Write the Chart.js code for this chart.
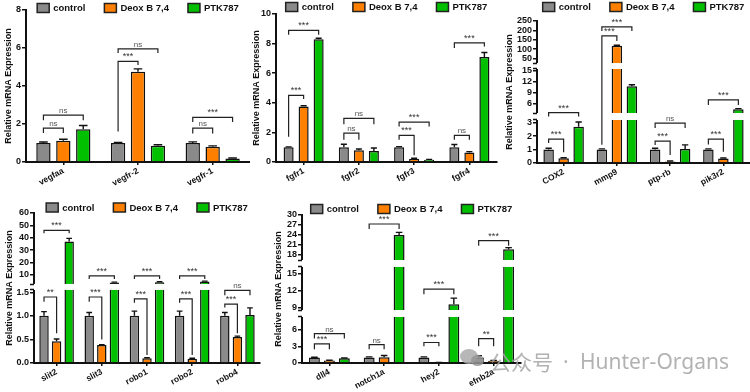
<!DOCTYPE html>
<html>
<head>
<meta charset="utf-8">
<script src="https://cdn.jsdelivr.net/npm/chart.js@4.4.1/dist/chart.umd.min.js"></script>
<style>
  html, body { margin: 0; padding: 0; background: #fff; }
  #wrap { position: relative; width: 750px; height: 392px; overflow: hidden; }
  #wrap canvas { position: absolute; }
  .wm { position: absolute; color: rgba(165,165,165,0.85); font-size: 21px; line-height: 21px; white-space: nowrap; }
  .cjk { font-family: "Noto Sans CJK SC", sans-serif; }
  .lat { font-family: "Noto Sans", sans-serif; }
  .bub { position: absolute; border-radius: 50%; background: rgba(170,170,170,0.85); }
</style>
</head>
<body>
<div id="wrap">
  <canvas id="pA" width="250" height="195" style="left:0;top:0"></canvas>
  <canvas id="pB" width="250" height="195" style="left:250px;top:0"></canvas>
  <canvas id="pC" width="250" height="195" style="left:500px;top:0"></canvas>
  <canvas id="pD" width="270" height="197" style="left:0;top:195px"></canvas>
  <canvas id="pE" width="255" height="197" style="left:270px;top:195px"></canvas>
  <div class="bub" style="left:460px;top:349px;width:18px;height:15px"></div>
  <div class="bub" style="left:471px;top:355px;width:13px;height:11px;background:rgba(150,150,150,0.85)"></div>
  <div class="wm cjk" style="left:490px;top:351px">公众号</div>
  <div class="wm lat" style="left:563px;top:351px">·</div>
  <div class="wm lat" style="left:580px;top:351px">Hunter-Organs</div>
</div>
<script>
const groups = ['control', 'Deox B 7,4', 'PTK787'];
const groupColors = ['#8a8a8a', '#ff8000', '#00c000'];

// sig rows: [gene, bar a, bar b, bracket level, left leg end, right leg end, label]
const vegfGenes = ['vegfaa', 'vegfr-2', 'vegfr-1'];
const vegfControl = [1.0, 1.0, 1.0];
const vegfDeox = [1.12, 4.75, 0.8];
const vegfPtk = [1.72, 0.85, 0.18];
const vegfSem = [[0.05, 0.03, 0.06], [0.08, 0.15, 0.05], [0.2, 0.06, 0.03]];
const vegfSig = [
  [0, 0, 1, 1.78, 1.53, 1.53, 'ns'],
  [0, 0, 2, 2.47, 2.2, 2.2, 'ns'],
  [1, 0, 1, 5.3, 1.6, 5.1, '***'],
  [1, 0, 2, 5.95, 5.74, 5.74, 'ns'],
  [2, 0, 1, 1.78, 1.5, 1.5, 'ns'],
  [2, 0, 2, 2.35, 2.1, 2.1, '***']
];

const fgfGenes = ['fgfr1', 'fgfr2', 'fgfr3', 'fgfr4'];
const fgfControl = [1.0, 1.0, 1.0, 1.0];
const fgfDeox = [3.75, 0.8, 0.22, 0.65];
const fgfPtk = [8.3, 0.75, 0.15, 7.1];
const fgfSem = [[0.02, 0.2, 0.04, 0.18], [0.05, 0.08, 0.03, 0.05], [0.06, 0.2, 0.03, 0.3]];
const fgfSig = [
  [0, 0, 1, 4.5, 1.7, 4.25, '***'],
  [0, 0, 2, 8.9, 8.6, 8.6, '***'],
  [1, 0, 1, 1.95, 1.5, 1.5, 'ns'],
  [1, 0, 2, 2.95, 2.55, 2.55, 'ns'],
  [2, 0, 1, 1.8, 1.5, 0.45, '***'],
  [2, 0, 2, 2.7, 2.4, 2.4, '***'],
  [3, 0, 1, 1.8, 1.5, 1.5, 'ns'],
  [3, 0, 2, 8.05, 7.7, 7.8, '***']
];

const coxGenes = ['COX2', 'mmp9', 'ptp-rb', 'pik3r2'];
const coxControl = [1.0, 1.0, 1.0, 1.0];
const coxDeox = [0.35, 117, 0.12, 0.33];
const coxPtk = [2.7, 10.8, 1.05, 4.5];
const coxSem = [[0.1, 0.05, 0.1, 0.05], [0.04, 3, 0.03, 0.04], [0.35, 0.4, 0.3, 0.2]];
const coxSig = [
  [0, 0, 1, 1.78, 1.48, 0.8, '***'],
  [0, 0, 2, 3.6, 3.35, 3.35, '***'],
  [1, 0, 1, 170, 1.35, 143, '***'],
  [1, 0, 2, 219, 196, 196, '***'],
  [2, 0, 1, 1.63, 1.33, 0.6, '***'],
  [2, 0, 2, 2.96, 2.6, 2.6, 'ns'],
  [3, 0, 1, 1.78, 1.38, 0.84, '***'],
  [3, 0, 2, 7.1, 5.7, 5.7, '***']
];
const coxTicks = [0, 1, 2, 3, 6, 9, 12, 15, 50, 100, 150, 200, 250];

const slitGenes = ['slit2', 'slit3', 'robo1', 'robo2', 'robo4'];
const slitControl = [1.0, 1.0, 1.0, 1.0, 1.0];
const slitDeox = [0.46, 0.38, 0.1, 0.09, 0.55];
const slitPtk = [37, 3.7, 4.0, 4.5, 1.02];
const slitSem = [[0.09, 0.07, 0.1, 0.1, 0.07], [0.05, 0.01, 0.01, 0.01, 0.02], [2.5, 0.4, 0.4, 0.4, 0.15]];
const slitSig = [
  [0, 0, 1, 1.4, 1.3, 0.63, '**'],
  [0, 0, 2, 46, 43.6, 43.6, '***'],
  [1, 0, 1, 1.4, 1.3, 0.5, '***'],
  [1, 0, 2, 9.2, 6.7, 6.7, '***'],
  [2, 0, 1, 1.36, 1.28, 0.17, '***'],
  [2, 0, 2, 9.2, 6.7, 6.7, '***'],
  [3, 0, 1, 1.36, 1.28, 0.17, '***'],
  [3, 0, 2, 9.2, 6.7, 6.7, '***'],
  [4, 0, 1, 1.25, 1.18, 0.63, '***'],
  [4, 0, 2, 1.54, 1.44, 1.44, 'ns']
];
const slitTicks = [0, 0.5, 1, 1.5, 10, 20, 30, 40, 50, 60];

const notchGenes = ['dll4', 'notch1a', 'hey2', 'efnb2a'];
const notchControl = [1.0, 1.0, 1.0, 1.0];
const notchDeox = [0.45, 1.05, 0.1, 0.4];
const notchPtk = [0.85, 24, 9.6, 19.7];
const notchSem = [[0.05, 0.1, 0.1, 0.3], [0.05, 0.3, 0.02, 0.05], [0.05, 0.8, 1.1, 0.5]];
const notchSig = [
  [0, 0, 1, 3.45, 2.5, 2.5, '***'],
  [0, 0, 2, 5.3, 4.4, 4.4, 'ns'],
  [1, 0, 1, 3.3, 2.5, 2.5, 'ns'],
  [1, 0, 2, 27.3, 25.8, 25.8, '***'],
  [2, 0, 1, 3.7, 3.0, 3.0, '***'],
  [2, 0, 2, 12.3, 11.4, 11.4, '***'],
  [3, 0, 1, 4.4, 3.0, 3.0, '**'],
  [3, 0, 2, 22.3, 20.8, 20.8, '***']
];
const notchTicks = [0, 3, 6, 9, 12, 15, 18, 21, 24, 27, 30];

const FONT = "'Liberation Sans', Arial, sans-serif";
Chart.defaults.font.family = FONT;
Chart.defaults.color = '#111';

// linear axis cut into pieces: knots are [value, fraction of axis height]
class BrokenScale extends Chart.LinearScale {
  static id = 'broken';
  getPixelForValue(v) {
    if (v === null || v === undefined || isNaN(v)) return NaN;
    const k = this.options.knots;
    let i = 1;
    while (i < k.length - 1 && v > k[i][0]) i++;
    const [v0, f0] = k[i - 1], [v1, f1] = k[i];
    return this.getPixelForDecimal(f0 + (v - v0) / (v1 - v0) * (f1 - f0));
  }
}
Chart.register(BrokenScale);

const marks = {
  id: 'marks',
  afterDatasetsDraw(chart, args, o) {
    const { ctx, chartArea: a } = chart;
    const y = chart.scales.y;
    ctx.save();
    ctx.strokeStyle = '#111';
    ctx.lineWidth = 1.4;
    o.sem.forEach((errs, d) => {
      chart.getDatasetMeta(d).data.forEach((bar, i) => {
        const top = y.getPixelForValue(chart.data.datasets[d].data[i] + errs[i]);
        const hw = bar.width * 0.3;
        ctx.beginPath();
        ctx.moveTo(bar.x, bar.y); ctx.lineTo(bar.x, top);
        ctx.moveTo(bar.x - hw, top); ctx.lineTo(bar.x + hw, top);
        ctx.stroke();
      });
    });
    (o.gaps || []).forEach(([lo, hi]) => {
      const y1 = y.getPixelForValue(hi), y2 = y.getPixelForValue(lo);
      ctx.fillStyle = '#fff';
      ctx.fillRect(a.left - 6, y1, a.right - a.left + 6, y2 - y1);
      ctx.lineWidth = 1.5;
      ctx.beginPath();
      ctx.moveTo(a.left - 4, y1 + 0.5); ctx.lineTo(a.left, y1 + 0.5);
      ctx.moveTo(a.left - 4, y2 - 0.5); ctx.lineTo(a.left, y2 - 0.5);
      ctx.stroke();
    });
    ctx.lineWidth = 1.2;
    ctx.strokeStyle = '#222';
    ctx.textAlign = 'center';
    ctx.textBaseline = 'alphabetic';
    o.sig.forEach(([g, p, q, lv, le, re, txt]) => {
      const b1 = chart.getDatasetMeta(p).data[g], b2 = chart.getDatasetMeta(q).data[g];
      const yy = y.getPixelForValue(lv);
      ctx.beginPath();
      ctx.moveTo(b1.x, y.getPixelForValue(le));
      ctx.lineTo(b1.x, yy); ctx.lineTo(b2.x, yy);
      ctx.lineTo(b2.x, y.getPixelForValue(re));
      ctx.stroke();
      ctx.fillStyle = txt === 'ns' ? '#555' : '#333';
      ctx.font = txt === 'ns' ? '8px ' + FONT : '9px ' + FONT;
      ctx.fillText(txt, (b1.x + b2.x) / 2, yy - 2);
    });
    ctx.restore();
  },
  afterDraw(chart, args, o) {
    const { ctx, chartArea: a } = chart;
    const ds = chart.data.datasets;
    ctx.save();
    ctx.font = 'bold 9.5px ' + FONT;
    const bw = 12, bh = 9;
    const widths = ds.map(d => bw + 4 + ctx.measureText(d.label).width);
    const total = widths.reduce((s, w) => s + w, 0) + 19 * (ds.length - 1);
    let x = (a.left + a.right) / 2 - total / 2;
    ds.forEach((d, i) => {
      ctx.fillStyle = d.backgroundColor;
      ctx.fillRect(x, o.legendY - bh / 2, bw, bh);
      ctx.strokeStyle = '#222'; ctx.lineWidth = 1.5;
      ctx.strokeRect(x, o.legendY - bh / 2, bw, bh);
      ctx.fillStyle = '#111';
      ctx.textAlign = 'left'; ctx.textBaseline = 'middle';
      ctx.fillText(d.label, x + bw + 4, o.legendY + 0.5);
      x += widths[i] + 19;
    });
    ctx.restore();
  }
};

function panel(id, s) {
  const y = {
    min: 0,
    border: { color: '#111', width: 2 },
    grid: { drawOnChartArea: false, tickLength: 4, color: '#111', lineWidth: 1.5 },
    ticks: { padding: 1, autoSkip: false, font: { size: 9, weight: 'bold' }, color: '#111',
      callback: v => (s.decimals && v < 2) ? v.toFixed(1) : v },
    title: { display: true, text: 'Relative mRNA Expression', font: { size: 9, weight: 'bold' },
      padding: { top: s.titlePad, bottom: 0 }, color: '#111' },
    afterFit: sc => { sc.width = s.yw; }
  };
  if (s.knots) {
    Object.assign(y, { type: 'broken', knots: s.knots, max: s.knots[s.knots.length - 1][0],
      afterBuildTicks: sc => { sc.ticks = s.ticks.map(v => ({ value: v })); } });
  } else {
    Object.assign(y, { type: 'linear', max: s.max });
    y.ticks.stepSize = s.step;
  }
  new Chart(document.getElementById(id), {
    type: 'bar',
    data: {
      labels: s.genes,
      datasets: s.values.map((vals, i) => ({
        label: groups[i], data: vals,
        backgroundColor: groupColors[i], borderColor: '#111', borderWidth: 1.5,
        categoryPercentage: s.cat, barPercentage: s.bar
      }))
    },
    options: {
      responsive: false, animation: false, events: [],
      layout: { padding: { top: s.top, right: s.right, left: 0, bottom: 0 } },
      plugins: {
        legend: { display: false }, tooltip: { enabled: false },
        marks: { sem: s.sem, sig: s.sig, gaps: s.gaps, legendY: s.legendY }
      },
      scales: {
        x: {
          border: { color: '#111', width: 2 },
          grid: { offset: false, drawOnChartArea: false, tickLength: 3, color: '#111', lineWidth: 1.5 },
          ticks: { autoSkip: false, minRotation: 28, maxRotation: 28, padding: 1,
            font: { size: 8.5, weight: 'bold' }, color: '#111' },
          afterFit: sc => { sc.height = s.xh; }
        },
        y
      }
    },
    plugins: [marks]
  });
}

panel('pA', { genes: vegfGenes, values: [vegfControl, vegfDeox, vegfPtk], sem: vegfSem, sig: vegfSig,
  max: 8, step: 2, top: 10, right: 0, yw: 26, xh: 33, cat: 0.8, bar: 0.72, legendY: 8, titlePad: 3 });
panel('pB', { genes: fgfGenes, values: [fgfControl, fgfDeox, fgfPtk], sem: fgfSem, sig: fgfSig,
  max: 10, step: 2, top: 14, right: 3, yw: 26, xh: 33, cat: 0.815, bar: 0.67, legendY: 7, titlePad: 1 });
panel('pC', { genes: coxGenes, values: [coxControl, coxDeox, coxPtk], sem: coxSem, sig: coxSig,
  knots: [[0, 0], [3.2, 0.303], [3.5, 0.352], [15.5, 0.662], [25, 0.704], [250, 1]],
  gaps: [[3.2, 3.5], [15.5, 25]], ticks: coxTicks,
  top: 21, right: 0, yw: 37, xh: 32, cat: 0.845, bar: 0.7, legendY: 7, titlePad: 4.5 });
panel('pD', { genes: slitGenes, values: [slitControl, slitDeox, slitPtk], sem: slitSem, sig: slitSig,
  knots: [[0, 0], [1.55, 0.487], [2.6, 0.527], [60, 1]],
  gaps: [[1.55, 2.6]], ticks: slitTicks, decimals: true,
  top: 18, right: 10, yw: 34, xh: 29, cat: 0.835, bar: 0.75, legendY: 12.5, titlePad: 4.5 });
panel('pE', { genes: notchGenes, values: [notchControl, notchDeox, notchPtk], sem: notchSem, sig: notchSig,
  knots: [[0, 0], [8.3, 0.311], [8.6, 0.358], [16.2, 0.649], [16.5, 0.696], [30, 1]],
  gaps: [[8.3, 8.6], [16.2, 16.5]], ticks: notchTicks,
  top: 20, right: 4, yw: 32, xh: 29, cat: 0.82, bar: 0.73, legendY: 14, titlePad: 3 });
</script>
</body>
</html>
